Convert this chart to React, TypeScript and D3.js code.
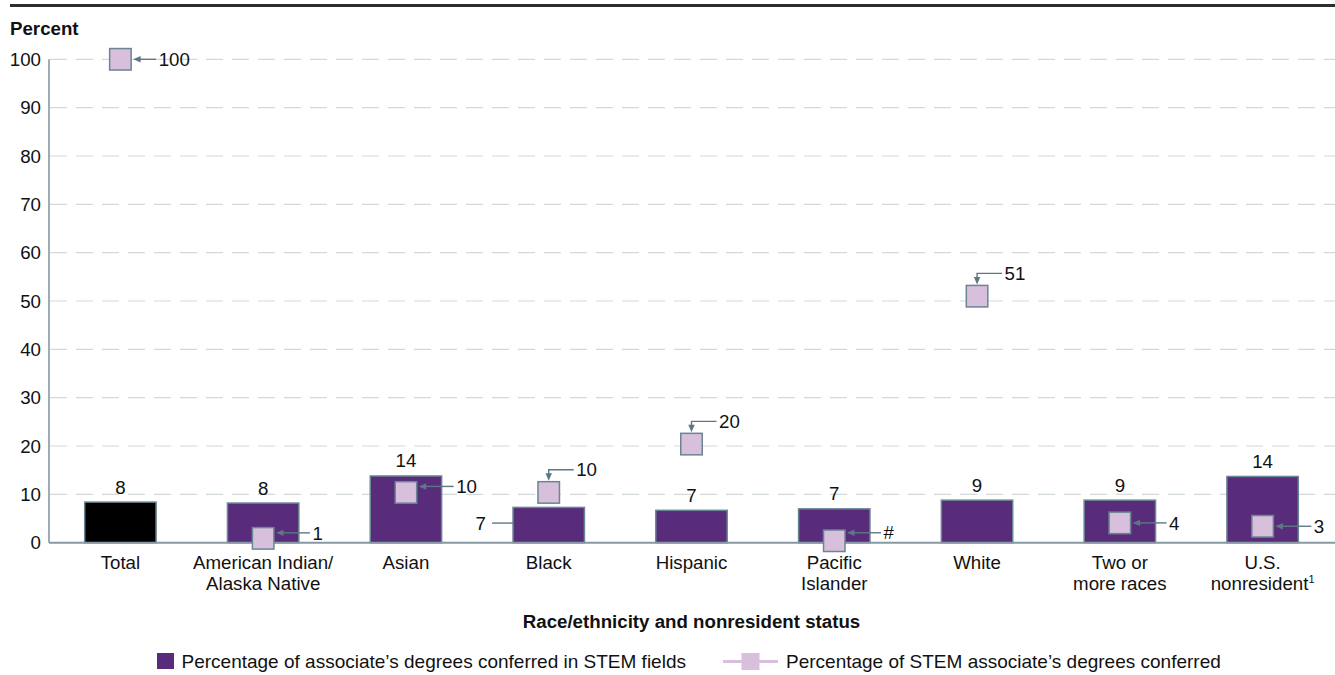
import React from "react";
import * as d3 from "d3";

// Race/ethnicity categories, each split into display lines
const categories = [
  "Total",
  "American Indian/Alaska Native",
  "Asian",
  "Black",
  "Hispanic",
  "Pacific Islander",
  "White",
  "Two or more races",
  "U.S. nonresident",
];
const categoryLines = [
  ["Total"],
  ["American Indian/", "Alaska Native"],
  ["Asian"],
  ["Black"],
  ["Hispanic"],
  ["Pacific", "Islander"],
  ["White"],
  ["Two or", "more races"],
  ["U.S.", "nonresident"],
];
// Percentage of associate's degrees conferred in STEM fields
const stemFieldShare = [8.4, 8.2, 13.8, 7.3, 6.7, 7.0, 8.8, 8.8, 13.7];
// Percentage of all STEM associate's degrees conferred
const stemDegreeShare = [100, 0.9, 10.4, 10.4, 20.4, 0.4, 51.0, 4.1, 3.4];
const yTicks = [0, 10, 20, 30, 40, 50, 60, 70, 80, 90, 100];

// Callout placement for the square markers
const calloutLayout = [
  { side: "right", len: 23, dy: 0 },
  { side: "right", len: 34, dy: -5.5 },
  { side: "right", len: 35, dy: -6 },
  { side: "top", len: 25, dy: 0 },
  { side: "top", len: 25, dy: 0 },
  { side: "right", len: 34, dy: -8 },
  { side: "top", len: 25, dy: 0 },
  { side: "right", len: 34, dy: 0 },
  { side: "right", len: 36, dy: 0 },
];
const barLabelSide = ["top", "top", "top", "left", "top", "top", "top", "top", "top"];

const W = 1335;
const H = 675;
const FONT = "'Liberation Sans', Arial, Helvetica, sans-serif";
const FS = 18.7;
const PURPLE = "#582c7b";
const PINK = "#d8bfdc";
const EDGE = "#6a8594";
const ARROW = "#5f7785";
const AXIS = "#8598a4";
const GRID = "#d2d9dc";

const fmt = (v: number) => (Math.round(v) === 0 ? "#" : d3.format(".0f")(v));

export default function App() {
  const x = d3
    .scaleBand<string>()
    .domain(categories)
    .range([49, 1334])
    .paddingInner(0.5)
    .paddingOuter(0.25);
  const y = d3.scaleLinear().domain([0, 100]).range([542.7, 59.3]);
  const bw = x.bandwidth();
  const sq = 21.5;

  return (
    <svg
      width={W}
      height={H}
      style={{ position: "absolute", left: 0, top: 0, background: "#fff" }}
      fontFamily={FONT}
      fontSize={FS}
    >
      <line x1={10} x2={W} y1={5.5} y2={5.5} stroke="#2e2e2e" strokeWidth={3} />
      <text x={10} y={35} fontWeight="bold" fill="#111">
        Percent
      </text>

      {/* gridlines and y tick labels */}
      {yTicks.map((t) => (
        <g key={t}>
          {t > 0 && (
            <line
              x1={50}
              x2={W}
              y1={y(t)}
              y2={y(t)}
              stroke={GRID}
              strokeWidth={1.2}
              strokeDasharray="17 9"
            />
          )}
          <text x={41} y={y(t)} dy="0.36em" textAnchor="end" fill="#111">
            {t}
          </text>
        </g>
      ))}

      {/* bars */}
      {categories.map((c, i) => {
        const v = stemFieldShare[i];
        const bx = x(c)!;
        const top = y(v);
        const cx = bx + bw / 2;
        return (
          <g key={c}>
            <rect
              x={bx}
              y={top}
              width={bw}
              height={y(0) - top}
              fill={i === 0 ? "#000" : PURPLE}
              stroke={EDGE}
              strokeWidth={1.5}
            />
            {barLabelSide[i] === "top" ? (
              <text x={cx} y={top - 8.5} textAnchor="middle" fill="#111">
                {fmt(v)}
              </text>
            ) : (
              <g>
                <line
                  x1={bx - 21}
                  x2={bx}
                  y1={(top + y(0)) / 2 - 2}
                  y2={(top + y(0)) / 2 - 2}
                  stroke={ARROW}
                  strokeWidth={1.4}
                />
                <text
                  x={bx - 27}
                  y={(top + y(0)) / 2 - 2}
                  dy="0.36em"
                  textAnchor="end"
                  fill="#111"
                >
                  {fmt(v)}
                </text>
              </g>
            )}
          </g>
        );
      })}

      {/* axes */}
      <line x1={49} x2={49} y1={y(100)} y2={y(0)} stroke={AXIS} strokeWidth={1.6} />
      <line x1={49} x2={W} y1={y(0)} y2={y(0)} stroke={AXIS} strokeWidth={2} />

      {/* square markers with callouts */}
      {categories.map((c, i) => {
        const v = stemDegreeShare[i];
        const cx = x(c)! + bw / 2;
        const cy = y(v);
        const L = calloutLayout[i];
        let callout;
        if (L.side === "right") {
          const tip = cx + sq / 2 + 2;
          const ly = cy + L.dy;
          callout = (
            <g>
              <line x1={tip + 5} x2={tip + L.len} y1={ly} y2={ly} stroke={ARROW} strokeWidth={1.4} />
              <path
                d={`M${tip},${ly} L${tip + 7.5},${ly - 3.2} L${tip + 7.5},${ly + 3.2} Z`}
                fill={ARROW}
              />
              <text x={tip + L.len + 2.5} y={ly} dy="0.36em" fill="#111">
                {fmt(v)}
              </text>
            </g>
          );
        } else {
          const tipY = cy - sq / 2 - 1;
          const hy = cy - sq / 2 - 12;
          callout = (
            <g>
              <path
                d={`M${cx + L.len},${hy} L${cx},${hy} L${cx},${tipY - 5}`}
                fill="none"
                stroke={ARROW}
                strokeWidth={1.4}
              />
              <path
                d={`M${cx},${tipY} L${cx - 3.2},${tipY - 7.5} L${cx + 3.2},${tipY - 7.5} Z`}
                fill={ARROW}
              />
              <text x={cx + L.len + 2.5} y={hy} dy="0.36em" fill="#111">
                {fmt(v)}
              </text>
            </g>
          );
        }
        return (
          <g key={c}>
            <rect
              x={cx - sq / 2}
              y={cy - sq / 2}
              width={sq}
              height={sq}
              fill={PINK}
              stroke={EDGE}
              strokeWidth={1.5}
            />
            {callout}
          </g>
        );
      })}

      {/* category labels */}
      {categories.map((c, i) => {
        const cx = x(c)! + bw / 2;
        return (
          <text key={c} x={cx} y={568.5} textAnchor="middle" fill="#111">
            {categoryLines[i].map((ln, k) => (
              <tspan key={k} x={cx} dy={k === 0 ? 0 : 21.7}>
                {ln}
                {i === categories.length - 1 && k === 1 && (
                  <tspan fontSize={11} dy={-7}>
                    1
                  </tspan>
                )}
              </tspan>
            ))}
          </text>
        );
      })}

      <text x={(49 + 1334) / 2} y={628.4} textAnchor="middle" fontWeight="bold" fill="#111">
        Race/ethnicity and nonresident status
      </text>

      {/* legend */}
      <g fontSize={19}>
        <rect x={157} y={653} width={17} height={16} fill={PURPLE} />
        <text x={181.5} y={661.5} dy="0.36em" fill="#111">
          Percentage of associate’s degrees conferred in STEM fields
        </text>
        <line x1={723} x2={778} y1={661.5} y2={661.5} stroke={PINK} strokeWidth={3} />
        <rect x={741.5} y={653} width={18} height={17} fill={PINK} />
        <text x={786} y={661.5} dy="0.36em" fill="#111">
          Percentage of STEM associate’s degrees conferred
        </text>
      </g>
    </svg>
  );
}
